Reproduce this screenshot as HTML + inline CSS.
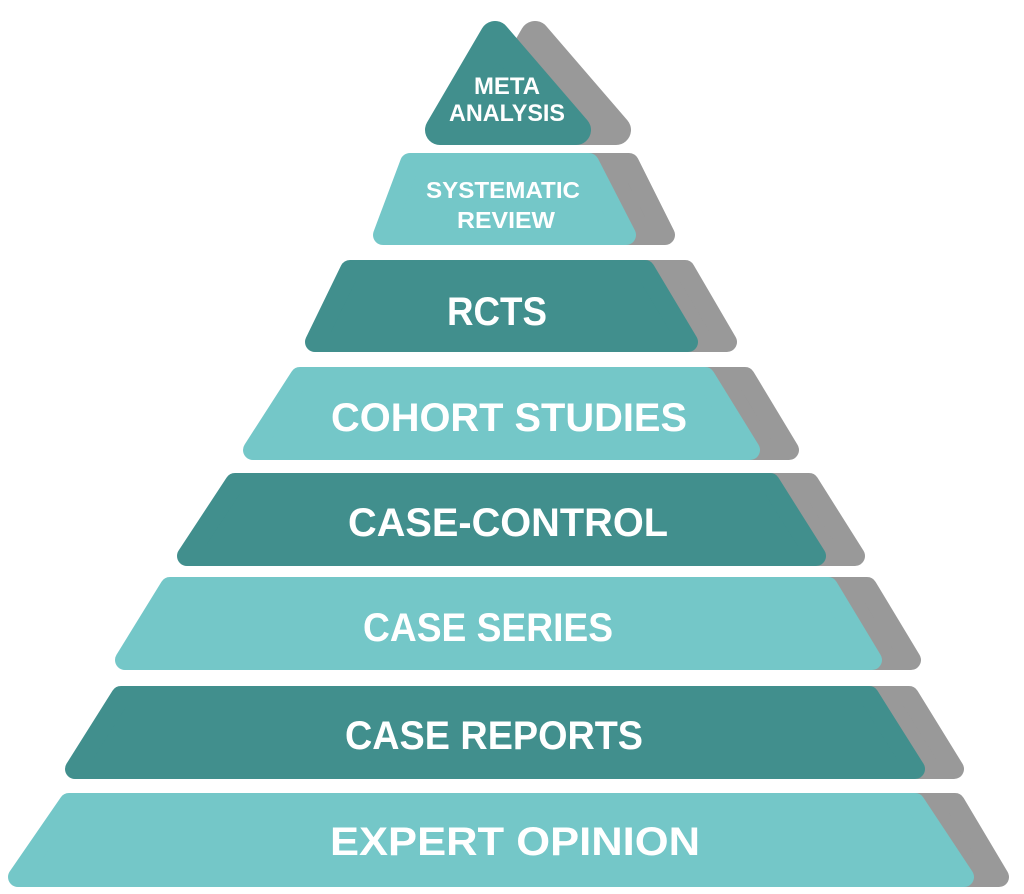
<!DOCTYPE html>
<html><head><meta charset="utf-8"><style>
html,body{margin:0;padding:0;background:#fff;}
svg{display:block;}
text{font-family:"Liberation Sans",sans-serif;font-weight:bold;fill:#fff;text-anchor:middle;}
</style></head><body>
<svg width="1024" height="894" viewBox="0 0 1024 894" xmlns="http://www.w3.org/2000/svg">
<g stroke-linejoin="round">
<g fill="#999999" stroke="#999999" stroke-width="20">
<polygon points="535,36 616,130 480,130" stroke-width="30"/>
<polygon points="629,163 665,235 455,235 483,163"/>
<polygon points="685,270 727,342 385,342 423,270"/>
<polygon points="745,377 789,450 325,450 373,377"/>
<polygon points="809,483 855,556 265,556 303,483"/>
<polygon points="867,587 911,660 205,660 243,587"/>
<polygon points="909,696 954,769 155,769 193,696"/>
<polygon points="955,803 999,877 95,877 133,803"/>
</g>
<g stroke-width="20">
<polygon fill="#418f8d" stroke="#418f8d" points="495,36 576,130 440,130" stroke-width="30"/>
<polygon fill="#74c7c8" stroke="#74c7c8" points="589,163 626,235 383,235 410,163"/>
<polygon fill="#418f8d" stroke="#418f8d" points="645,270 688,342 315,342 350,270"/>
<polygon fill="#74c7c8" stroke="#74c7c8" points="705,377 750,450 253,450 300,377"/>
<polygon fill="#418f8d" stroke="#418f8d" points="770,483 816,556 187,556 235,483"/>
<polygon fill="#74c7c8" stroke="#74c7c8" points="828,587 872,660 125,660 170,587"/>
<polygon fill="#418f8d" stroke="#418f8d" points="869,696 915,769 75,769 121,696"/>
<polygon fill="#74c7c8" stroke="#74c7c8" points="915,803 964,877 18,877 69,803"/>
</g>
</g>
<text x="507" y="94" font-size="24" textLength="66" lengthAdjust="spacingAndGlyphs">META</text>
<text x="507" y="121" font-size="24" textLength="116" lengthAdjust="spacingAndGlyphs">ANALYSIS</text>
<text x="503" y="198" font-size="23" textLength="154" lengthAdjust="spacingAndGlyphs">SYSTEMATIC</text>
<text x="506" y="228" font-size="23" textLength="98" lengthAdjust="spacingAndGlyphs">REVIEW</text>
<text x="497" y="325" font-size="40" textLength="100" lengthAdjust="spacingAndGlyphs">RCTS</text>
<text x="509" y="431" font-size="40" textLength="356" lengthAdjust="spacingAndGlyphs">COHORT STUDIES</text>
<text x="508" y="536" font-size="40" textLength="320" lengthAdjust="spacingAndGlyphs">CASE-CONTROL</text>
<text x="488" y="641" font-size="40" textLength="250" lengthAdjust="spacingAndGlyphs">CASE SERIES</text>
<text x="494" y="749" font-size="40" textLength="298" lengthAdjust="spacingAndGlyphs">CASE REPORTS</text>
<text x="515" y="855" font-size="40" textLength="370" lengthAdjust="spacingAndGlyphs">EXPERT OPINION</text>
</svg>
</body></html>
